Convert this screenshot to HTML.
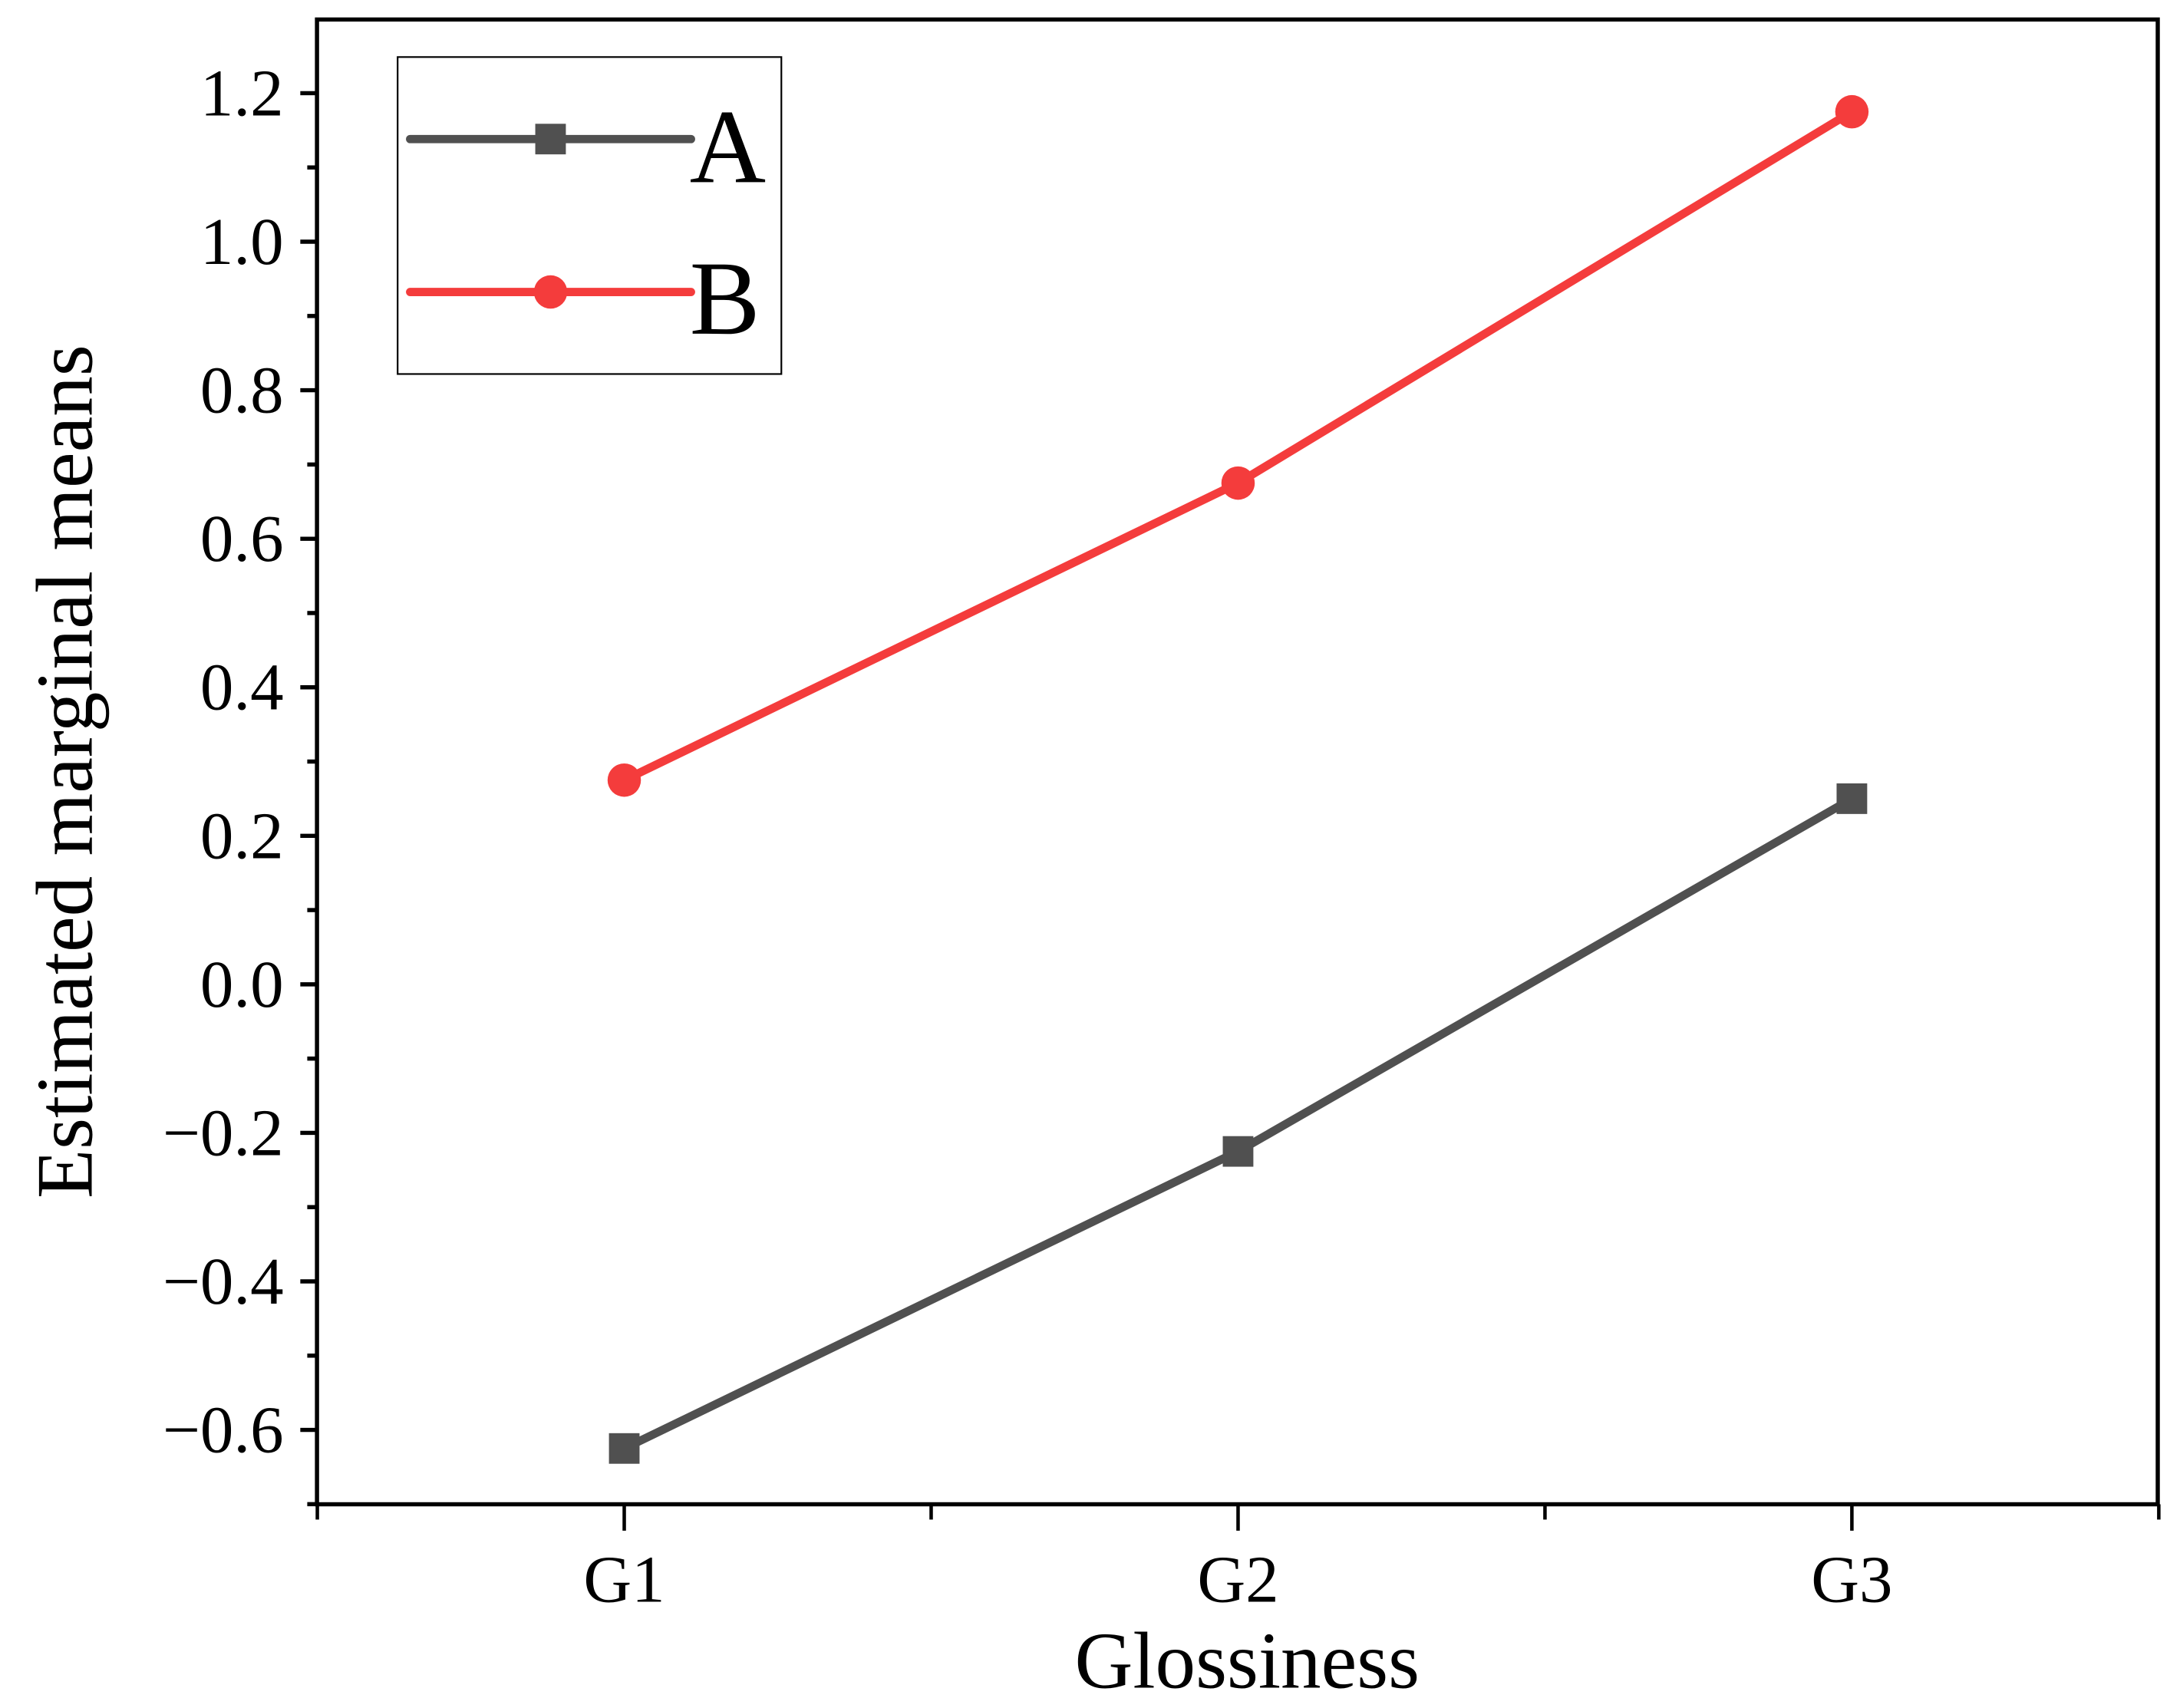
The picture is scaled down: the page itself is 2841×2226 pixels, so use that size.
<!DOCTYPE html>
<html><head><meta charset="utf-8"><style>
html,body{margin:0;padding:0;background:#fff}
svg{display:block}
text{font-family:"Liberation Serif",serif;fill:#000}
</style></head><body>
<svg id="chart" width="2841" height="2226" viewBox="0 0 1568 1228.5" xmlns="http://www.w3.org/2000/svg">
<g id="axes"></g>
<g id="series"></g>
<g id="legend">
  <rect x="286" y="41" width="276" height="228" fill="#fff" stroke="#000" stroke-width="1.2"/>
  <g>
    <line x1="295" y1="100" x2="497" y2="100" stroke="#505050" stroke-width="6" stroke-linecap="round"/>
    <rect x="385" y="89" width="22" height="22" fill="#505050"/>
    <text x="496" y="131" font-size="76">A</text>
  </g>
  <g>
    <line x1="295" y1="210" x2="497" y2="210" stroke="#f43c3c" stroke-width="6" stroke-linecap="round"/>
    <circle cx="396" cy="210" r="12" fill="#f43c3c"/>
    <text x="496" y="240" font-size="76">B</text>
  </g>
</g>
</svg>
<script>
const categories = ["G1","G2","G3"];
const seriesA = [-0.625, -0.225, 0.25];
const seriesB = [0.275, 0.675, 1.175];
const yTicks = [-0.6,-0.4,-0.2,0.0,0.2,0.4,0.6,0.8,1.0,1.2];
const yTickLabels = ["\u22120.6","\u22120.4","\u22120.2","0.0","0.2","0.4","0.6","0.8","1.0","1.2"];
const yMinorTicks = [-0.7,-0.5,-0.3,-0.1,0.1,0.3,0.5,0.7,0.9,1.1];

const NS="http://www.w3.org/2000/svg";
const L=228,R=1552,T=14,B=1082;
const xS=i=>449+i*441.5;
const yS=v=>708-v*(641/1.2);
function mk(tag,attrs,parent){const e=document.createElementNS(NS,tag);for(const k in attrs)e.setAttribute(k,attrs[k]);parent.appendChild(e);return e;}
const axes=document.getElementById('axes');
const series=document.getElementById('series');

let fr=mk('rect',{x:L,y:T,width:R-L,height:B-T,fill:'none',stroke:'#000','stroke-width':3},axes);



yTicks.forEach((v,i)=>{
  const y=yS(v);
  let t=mk('line',{x1:L-12,x2:L,y1:y,y2:y,stroke:'#000','stroke-width':3},axes);
  
  
  let tx=mk('text',{x:L-24,y:y+16,'font-size':48,'text-anchor':'end'},axes);
  tx.textContent=yTickLabels[i];
  
  
});
yMinorTicks.forEach(v=>{
  const y=yS(v);
  let t=mk('line',{x1:L-7,x2:L,y1:y,y2:y,stroke:'#000','stroke-width':3},axes);
  
  
});
categories.forEach((c,i)=>{
  const x=xS(i);
  let t=mk('line',{x1:x,x2:x,y1:B,y2:B+19,stroke:'#000','stroke-width':2.5},axes);
  
  
  let tx=mk('text',{x:x,y:B+70,'font-size':48,'text-anchor':'middle'},axes);
  tx.textContent=c;
  
  
});
for(let i=-0.5;i<=categories.length-0.5;i+=1){
  const x=xS(i);
  let t=mk('line',{x1:x,x2:x,y1:B,y2:B+11,stroke:'#000','stroke-width':2.5},axes);
  
  
}
let xt=mk('text',{x:897,y:1214,'font-size':58,'text-anchor':'middle'},axes);
xt.textContent='Glossiness';


let yt=mk('text',{x:0,y:0,'font-size':58,'text-anchor':'middle',transform:`translate(66,555) rotate(-90)`},axes);
yt.textContent='Estimated marginal means';



function drawSeries(vals,color,marker,name){
  const pts=vals.map((v,i)=>xS(i)+','+yS(v)).join(' ');
  let pl=mk('polyline',{points:pts,fill:'none',stroke:color,'stroke-width':6,'stroke-linejoin':'round'},series);
  
  
  vals.forEach((v,i)=>{
    let m;
    if(marker==='square') m=mk('rect',{x:xS(i)-11,y:yS(v)-11,width:22,height:22,fill:color},series);
    else m=mk('circle',{cx:xS(i),cy:yS(v),r:12,fill:color},series);
    
    
  });
}
drawSeries(seriesA,'#505050','square','series-a');
drawSeries(seriesB,'#f43c3c','circle','series-b');
</script>
</body></html>
